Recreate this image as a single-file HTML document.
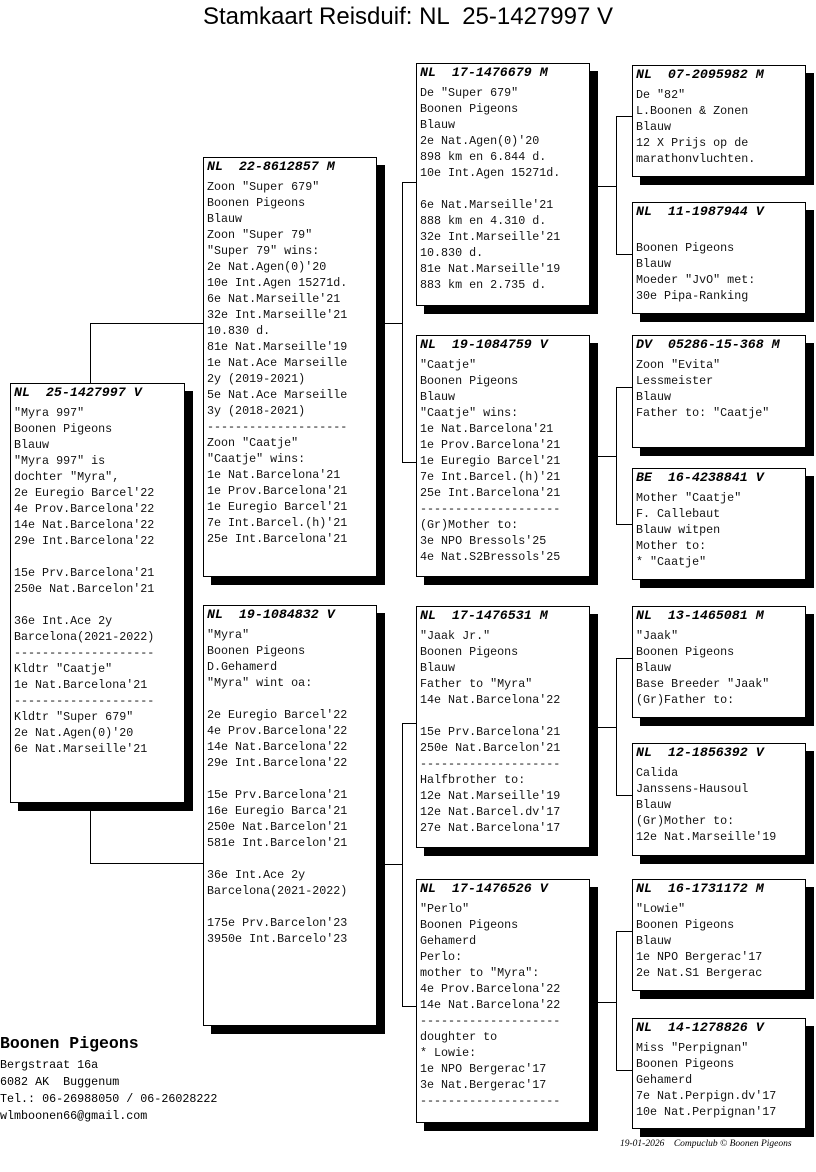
<!DOCTYPE html>
<html><head><meta charset="utf-8"><style>
body{margin:0;width:816px;height:1172px;background:#fff;position:relative;overflow:hidden}
.t{position:absolute;left:0;width:816px;top:3px;text-align:center;font:24px "Liberation Sans",sans-serif;white-space:pre}
.b{position:absolute;border:1px solid #000;background:#fff;box-shadow:8px 8px 0 #000;box-sizing:border-box}
.h{font:bold italic 13.3px "Liberation Mono",monospace;line-height:16px;padding:1px 0 0 3px;white-space:pre}
.c{font:11.7px "Liberation Mono",monospace;line-height:16px;padding:4px 0 0 3px;white-space:pre;color:#111}
.l{position:absolute;background:#000}
.f{position:absolute;font:11.7px "Liberation Mono",monospace;white-space:pre}
</style></head><body>
<div class="t">Stamkaart Reisduif: NL  25-1427997 V</div>

<div class="l" style="left:90px;top:323px;width:1px;height:60px"></div>
<div class="l" style="left:90px;top:323px;width:113px;height:1px"></div>
<div class="l" style="left:90px;top:802px;width:1px;height:62px"></div>
<div class="l" style="left:90px;top:863px;width:113px;height:1px"></div>

<div class="l" style="left:384px;top:323px;width:18px;height:1px"></div>
<div class="l" style="left:402px;top:182px;width:1px;height:281px"></div>
<div class="l" style="left:402px;top:182px;width:14px;height:1px"></div>
<div class="l" style="left:402px;top:462px;width:14px;height:1px"></div>
<div class="l" style="left:384px;top:864px;width:18px;height:1px"></div>
<div class="l" style="left:402px;top:723px;width:1px;height:284px"></div>
<div class="l" style="left:402px;top:723px;width:14px;height:1px"></div>
<div class="l" style="left:402px;top:1006px;width:14px;height:1px"></div>

<div class="l" style="left:597px;top:186px;width:19px;height:1px"></div>
<div class="l" style="left:616px;top:116px;width:1px;height:139px"></div>
<div class="l" style="left:616px;top:116px;width:16px;height:1px"></div>
<div class="l" style="left:616px;top:254px;width:16px;height:1px"></div>
<div class="l" style="left:597px;top:456px;width:19px;height:1px"></div>
<div class="l" style="left:616px;top:387px;width:1px;height:138px"></div>
<div class="l" style="left:616px;top:387px;width:16px;height:1px"></div>
<div class="l" style="left:616px;top:524px;width:16px;height:1px"></div>
<div class="l" style="left:597px;top:727px;width:19px;height:1px"></div>
<div class="l" style="left:616px;top:658px;width:1px;height:138px"></div>
<div class="l" style="left:616px;top:658px;width:16px;height:1px"></div>
<div class="l" style="left:616px;top:795px;width:16px;height:1px"></div>
<div class="l" style="left:597px;top:1002px;width:19px;height:1px"></div>
<div class="l" style="left:616px;top:931px;width:1px;height:140px"></div>
<div class="l" style="left:616px;top:931px;width:16px;height:1px"></div>
<div class="l" style="left:616px;top:1070px;width:16px;height:1px"></div>

<div class="b" style="left:10px;top:383px;width:175px;height:420px"><div class="h">NL  25-1427997 V</div><div class="c">"Myra 997"
Boonen Pigeons
Blauw
"Myra 997" is
dochter "Myra",
2e Euregio Barcel'22
4e Prov.Barcelona'22
14e Nat.Barcelona'22
29e Int.Barcelona'22

15e Prv.Barcelona'21
250e Nat.Barcelon'21

36e Int.Ace 2y
Barcelona(2021-2022)
--------------------
Kldtr "Caatje"
1e Nat.Barcelona'21
--------------------
Kldtr "Super 679"
2e Nat.Agen(0)'20
6e Nat.Marseille'21</div></div>

<div class="b" style="left:203px;top:157px;width:174px;height:420px"><div class="h">NL  22-8612857 M</div><div class="c">Zoon "Super 679"
Boonen Pigeons
Blauw
Zoon "Super 79"
"Super 79" wins:
2e Nat.Agen(0)'20
10e Int.Agen 15271d.
6e Nat.Marseille'21
32e Int.Marseille'21
10.830 d.
81e Nat.Marseille'19
1e Nat.Ace Marseille
2y (2019-2021)
5e Nat.Ace Marseille
3y (2018-2021)
--------------------
Zoon "Caatje"
"Caatje" wins:
1e Nat.Barcelona'21
1e Prov.Barcelona'21
1e Euregio Barcel'21
7e Int.Barcel.(h)'21
25e Int.Barcelona'21</div></div>
<div class="b" style="left:203px;top:605px;width:174px;height:421px"><div class="h">NL  19-1084832 V</div><div class="c">"Myra"
Boonen Pigeons
D.Gehamerd
"Myra" wint oa:

2e Euregio Barcel'22
4e Prov.Barcelona'22
14e Nat.Barcelona'22
29e Int.Barcelona'22

15e Prv.Barcelona'21
16e Euregio Barca'21
250e Nat.Barcelon'21
581e Int.Barcelon'21

36e Int.Ace 2y
Barcelona(2021-2022)

175e Prv.Barcelon'23
3950e Int.Barcelo'23</div></div>

<div class="b" style="left:416px;top:63px;width:174px;height:243px"><div class="h">NL  17-1476679 M</div><div class="c">De "Super 679"
Boonen Pigeons
Blauw
2e Nat.Agen(0)'20
898 km en 6.844 d.
10e Int.Agen 15271d.

6e Nat.Marseille'21
888 km en 4.310 d.
32e Int.Marseille'21
10.830 d.
81e Nat.Marseille'19
883 km en 2.735 d.</div></div>
<div class="b" style="left:416px;top:335px;width:174px;height:242px"><div class="h">NL  19-1084759 V</div><div class="c">"Caatje"
Boonen Pigeons
Blauw
"Caatje" wins:
1e Nat.Barcelona'21
1e Prov.Barcelona'21
1e Euregio Barcel'21
7e Int.Barcel.(h)'21
25e Int.Barcelona'21
--------------------
(Gr)Mother to:
3e NPO Bressols'25
4e Nat.S2Bressols'25</div></div>
<div class="b" style="left:416px;top:606px;width:174px;height:242px"><div class="h">NL  17-1476531 M</div><div class="c">"Jaak Jr."
Boonen Pigeons
Blauw
Father to "Myra"
14e Nat.Barcelona'22

15e Prv.Barcelona'21
250e Nat.Barcelon'21
--------------------
Halfbrother to:
12e Nat.Marseille'19
12e Nat.Barcel.dv'17
27e Nat.Barcelona'17</div></div>
<div class="b" style="left:416px;top:879px;width:174px;height:244px"><div class="h">NL  17-1476526 V</div><div class="c">"Perlo"
Boonen Pigeons
Gehamerd
Perlo:
mother to "Myra":
4e Prov.Barcelona'22
14e Nat.Barcelona'22
--------------------
doughter to
* Lowie:
1e NPO Bergerac'17
3e Nat.Bergerac'17
--------------------</div></div>

<div class="b" style="left:632px;top:65px;width:174px;height:112px"><div class="h">NL  07-2095982 M</div><div class="c">De "82"
L.Boonen &amp; Zonen
Blauw
12 X Prijs op de
marathonvluchten.</div></div>
<div class="b" style="left:632px;top:202px;width:174px;height:112px"><div class="h">NL  11-1987944 V</div><div class="c">
Boonen Pigeons
Blauw
Moeder "JvO" met:
30e Pipa-Ranking</div></div>
<div class="b" style="left:632px;top:335px;width:174px;height:113px"><div class="h">DV  05286-15-368 M</div><div class="c">Zoon "Evita"
Lessmeister
Blauw
Father to: "Caatje"</div></div>
<div class="b" style="left:632px;top:468px;width:174px;height:112px"><div class="h">BE  16-4238841 V</div><div class="c">Mother "Caatje"
F. Callebaut
Blauw witpen
Mother to:
* "Caatje"</div></div>
<div class="b" style="left:632px;top:606px;width:174px;height:112px"><div class="h">NL  13-1465081 M</div><div class="c">"Jaak"
Boonen Pigeons
Blauw
Base Breeder "Jaak"
(Gr)Father to:</div></div>
<div class="b" style="left:632px;top:743px;width:174px;height:113px"><div class="h">NL  12-1856392 V</div><div class="c">Calida
Janssens-Hausoul
Blauw
(Gr)Mother to:
12e Nat.Marseille'19</div></div>
<div class="b" style="left:632px;top:879px;width:174px;height:112px"><div class="h">NL  16-1731172 M</div><div class="c">"Lowie"
Boonen Pigeons
Blauw
1e NPO Bergerac'17
2e Nat.S1 Bergerac</div></div>
<div class="b" style="left:632px;top:1018px;width:174px;height:111px"><div class="h">NL  14-1278826 V</div><div class="c">Miss "Perpignan"
Boonen Pigeons
Gehamerd
7e Nat.Perpign.dv'17
10e Nat.Perpignan'17</div></div>

<div class="f" style="left:0;top:1034px;font:bold 16.5px 'Liberation Mono',monospace">Boonen Pigeons</div>
<div class="f" style="left:0;top:1057px;line-height:17px">Bergstraat 16a
6082 AK  Buggenum
Tel.: 06-26988050 / 06-26028222
wlmboonen66@gmail.com</div>
<div class="f" style="left:620px;top:1139px;font:italic 9.5px 'Liberation Serif',serif">19-01-2026    Compuclub © Boonen Pigeons</div>
</body></html>
